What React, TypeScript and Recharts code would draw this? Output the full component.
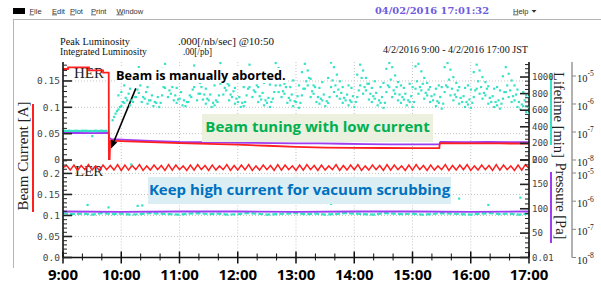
import React from 'react';
import { ComposedChart, Line, Scatter, XAxis, YAxis, ReferenceLine } from 'recharts';

// ---------------- DATA ----------------
const hourTicks = [9, 10, 11, 12, 13, 14, 15, 16, 17];
const hourLabels = ['9:00', '10:00', '11:00', '12:00', '13:00', '14:00', '15:00', '16:00', '17:00'];

// Top panel (HER) – beam current [A]
const herTimes = [9.0, 9.086, 9.087, 9.446, 9.447, 9.687, 9.688, 9.785, 9.788, 9.8, 9.803, 9.81, 10.0, 10.5, 11.0, 11.5, 12.0, 12.5, 13.0, 13.5, 14.0, 14.5, 15.0, 15.46, 15.47, 16.0, 16.5, 17.0];
const herCurrent = [0.1727, 0.1727, 0.1758, 0.1758, 0.17, 0.17, 0.1657, 0.1657, 0.0, 0.0, 0.012, 0.037, 0.036, 0.034, 0.032, 0.0305, 0.029, 0.027, 0.025, 0.0235, 0.023, 0.0228, 0.0226, 0.0225, 0.0318, 0.0316, 0.0314, 0.0312];

// Top panel – pressure [Pa]
const herPressTimes = [9.0, 9.25, 9.5, 9.785, 9.79, 9.83, 10.2, 10.6, 11.0, 11.4, 11.8, 12.2, 12.6, 13.0, 13.4, 13.8, 14.2, 14.6, 15.0, 15.46, 15.48, 15.9, 16.3, 16.7, 17.0];
const herPressure = [9.2e-8, 9.3e-8, 9.1e-8, 9.2e-8, 6.2e-8, 5.6e-8, 5.1e-8, 4.7e-8, 4.4e-8, 4.3e-8, 4.2e-8, 4.1e-8, 4.0e-8, 3.9e-8, 3.9e-8, 3.8e-8, 3.7e-8, 3.6e-8, 3.6e-8, 3.6e-8, 4.4e-8, 4.3e-8, 4.4e-8, 4.3e-8, 4.3e-8];

// Top panel – lifetime [min], before abort (2-minute samples from 9:00)
const herLifeBeforeStart = 9.0;
const herLifeBeforeStep = 1 / 30;
const herLifeBefore = [348, 351, 347, 352, 349, 346, 350, 353, 348, 347, 351, 349, 352, 348, 350, 346, 349, 351, 347, 350, 352, 348, 349, 351];
const herLifeOutlierT = [9.5];
const herLifeOutlierV = [289];

// Top panel – lifetime [min], after abort (3-minute samples from 9:51)
const herLifeAfterStart = 9.85;
const herLifeAfterStep = 0.05;
const herLifeAfter = [
  480, 560, 610, 650, 690, 720, 660, 700, 760,
  810, 700, 740, 680, 720, 650, 690, 640, 780,
  870, 760, 800, 720, 690, 740, 660, 650, 700,
  760, 880, 720, 800, 730, 680, 720, 640, 660,
  700, 920, 790, 840, 720, 760, 680, 700, 640,
  650, 780, 880, 760, 820, 700, 730, 660, 690,
  640, 740, 900, 820, 760, 800, 690, 720, 650,
  700, 630, 780, 860, 900, 760, 800, 700, 680,
  720, 650, 690, 880, 820, 770, 740, 690, 720,
  660, 700, 640, 760, 900, 800, 840, 730, 700,
  740, 660, 690, 630, 820, 880, 760, 800, 720,
  690, 730, 660, 700, 640, 860, 800, 840, 740,
  780, 700, 720, 650, 690, 620, 820, 880, 780,
  720, 760, 680, 700, 640, 670, 630, 760, 860,
  800, 740, 780, 680, 700, 640, 660, 620, 740,
  820, 760, 700, 720, 640, 610, 650, 580, 560,
];
// same instrument, samples taken half-way between the above (from 9:52.5)
const herLifeMidStart = 9.875;
const herLifeMid: (number | null)[] = [
  520, 590, 640, 700, 750, 800, 720, 760, 850,
  900, 760, 820, 720, 780, 700, 760, 690, 880,
  960, 840, 880, 780, 730, 820, 720, 700, 780,
  850, 960, 800, 880, 790, 740, 790, 690, 720,
  780, 1010, 870, 920, 790, 830, 740, 760, 690,
  700, 860, 960, 840, 900, 770, 810, 720, 750,
  700, 820, 990, 900, 830, 880, 750, 790, 710,
  770, 690, 860, 950, 990, 830, 880, 760, 740,
  790, 710, 760, 960, 900, 850, 810, 750, 790,
  720, 770, 700, 840, 990, 880, 920, 800, 770,
  810, 720, 760, 690, 900, 970, 840, 880, 790,
  760, 800, 720, 770, 700, 950, 880, 920, 810,
  850, 770, 790, 710, 760, 680, 900, 970, 860,
  790, 840, 750, 770, 700, 730, 690, 840, 950,
  880, 810, 860, 750, 770, 700, 720, 680, 820,
  900, 840, 770, 790, 700, 670, 720, 640, null,
];
const herLifeAfterHigh: (number | null)[] = [
  null, null, 780, 820, 900, 980, 860, null, 1050,
  1120, 960, null, 880, null, 940, 1010, null, 1100,
  1160, 1040, 950, null, 870, null, 990, 1080, null,
  1000, 1140, 1060, 930, null, 860, null, 1020, 900,
  980, 1170, 1090, 990, 900, null, 870, null, 950,
  880, 1050, 1150, 1060, 960, 880, null, 930, null,
  910, 1000, 1170, 1110, 1010, 920, null, 880, 960,
  null, 900, 1060, 1160, 1080, 980, 900, null, 870,
  940, null, 990, 1175, 1120, 1030, 950, 880, null,
  900, 870, null, 1030, 1150, 1080, 990, 920, 870,
  950, null, 880, 930, 1100, 1170, 1120, 1020, 940,
  900, 870, null, 920, 880, 1130, 1160, 1070, 990,
  930, 880, null, 860, 900, 880, 1120, 1170, 1090,
  1000, 930, 880, null, 870, 900, 850, 1060, 1150,
  1080, 1000, 940, 890, null, 860, 880, 840, 1010,
  1120, 1040, 960, 900, 850, null, 820, 780, 760,
];

// Bottom panel (LER) – beam current [A], 3.75-minute samples from 9:00
const lerCurStart = 9.0;
const lerCurStep = 1 / 16;
const lerCurrent = [
  0.214, 0.219, 0.208, 0.220, 0.207, 0.219, 0.209, 0.221, 0.208, 0.218, 0.207, 0.220, 0.209, 0.219, 0.208, 0.221,
  0.207, 0.220, 0.208, 0.219, 0.209, 0.221, 0.207, 0.218, 0.208, 0.220, 0.209, 0.219, 0.207, 0.221, 0.208, 0.220,
  0.209, 0.218, 0.207, 0.220, 0.208, 0.221, 0.209, 0.219, 0.207, 0.220, 0.208, 0.218, 0.209, 0.221, 0.207, 0.219,
  0.208, 0.220, 0.209, 0.221, 0.207, 0.218, 0.208, 0.220, 0.209, 0.219, 0.207, 0.221, 0.208, 0.220, 0.209, 0.218,
  0.207, 0.220, 0.208, 0.221, 0.209, 0.219, 0.207, 0.220, 0.208, 0.218, 0.209, 0.221, 0.207, 0.219, 0.208, 0.220,
  0.209, 0.221, 0.207, 0.218, 0.208, 0.220, 0.209, 0.219, 0.207, 0.221, 0.208, 0.220, 0.209, 0.218, 0.207, 0.220,
  0.208, 0.221, 0.209, 0.219, 0.207, 0.220, 0.208, 0.218, 0.209, 0.221, 0.207, 0.219, 0.208, 0.220, 0.209, 0.221,
  0.207, 0.218, 0.208, 0.220, 0.209, 0.219, 0.207, 0.221, 0.208, 0.220, 0.209, 0.218, 0.207, 0.220, 0.208, 0.221,
  0.212,
];

// Bottom panel – lifetime [min], 10-minute samples from 9:00
const lerLifeStart = 9.0;
const lerLifeStep = 1 / 6;
const lerLife = [
  91, 89, 90, 88, 91, 89, 90, 88, 89, 91,
  90, 89, 88, 90, 91, 89, 90, 88, 89, 91,
  90, 88, 89, 90, 91, 89, 90, 88, 89, 91,
  90, 89, 88, 91, 90, 89, 90, 88, 89, 91,
  90, 89, 88, 90, 91, 89, 90, 88, 90,
];
const lerLifeOutT = [9.42, 9.78, 10.17, 10.28, 10.36, 12.1, 13.6, 15.2, 15.8, 16.3, 16.85];
const lerLifeOutV = [108, 103, 191, 106, 107, 113, 110, 118, 121, 108, 123];

// Bottom panel – pressure [Pa]
const lerPressTimes = [9, 10, 11, 12, 13, 14, 15, 16, 17];
const lerPressure = [4.3e-7, 4.2e-7, 4.3e-7, 4.3e-7, 4.2e-7, 4.3e-7, 4.3e-7, 4.2e-7, 4.3e-7];

// Axis tick labels
const curTopMajors = [0, 0.05, 0.1, 0.15];
const curTopLabels = ['0', '0.05', '0.1', '0.15'];
const curBotMajors = [0, 0.05, 0.1, 0.15, 0.2];
const curBotLabels = ['0.0', '0.05', '0.1', '0.15', '0.2'];
const lifeTopMajors = [0, 200, 400, 600, 800, 1000];
const lifeTopLabels = ['0', '200', '400', '600', '800', '1000'];
const lifeBotMajors = [0, 50, 100, 150, 200];
const lifeBotLabels = ['0.01', '50', '100', '150', '200'];
const pressMajors = [1e-8, 1e-7, 1e-6, 1e-5];

// ---------------- BUILD TABLES ----------------
const pairs = (ts: number[], vs: (number | null)[]) =>
  ts.map((t, i) => ({ t, v: vs[i] })).filter((d) => d.v !== null && d.v !== undefined);
const seq = (start: number, step: number, vs: (number | null)[]) =>
  vs.map((v, i) => ({ t: start + i * step, v })).filter((d) => d.v !== null && d.v !== undefined);

const herCurData = pairs(herTimes, herCurrent);
const herPressData = pairs(herPressTimes, herPressure);
const herLifeBeforeData = seq(herLifeBeforeStart, herLifeBeforeStep, herLifeBefore);
const herLifeOutData = pairs(herLifeOutlierT, herLifeOutlierV);
const herLifeAfterData = seq(herLifeAfterStart, herLifeAfterStep, herLifeAfter);
const herLifeMidData = seq(herLifeMidStart, herLifeAfterStep, herLifeMid);
const herLifeHighData = seq(herLifeAfterStart, herLifeAfterStep, herLifeAfterHigh);
const lerCurData = seq(lerCurStart, lerCurStep, lerCurrent);
const lerLifeData = seq(lerLifeStart, lerLifeStep, lerLife);
const lerLifeOutData = pairs(lerLifeOutT, lerLifeOutV);
const lerPressData = pairs(lerPressTimes, lerPressure);

// minor tick helpers (styling only)
const range = (a: number, b: number, s: number) => {
  const out: number[] = [];
  for (let v = a; v <= b + 1e-9; v += s) out.push(Math.round(v * 1e6) / 1e6);
  return out;
};
const xTicks = range(9, 17, 1 / 3);
const curTopTicks = range(0, 0.18, 0.01);
const curBotTicks = range(0, 0.23, 0.01);
const lifeTopTicks = range(0, 1150, 50);
const lifeBotTicks = range(0, 200, 10);

// ---------------- STYLE ----------------
const RED = '#ff1f1f';
const CYAN = '#36e2c6';
const PURPLE = '#9d3cf0';
const MONO = "'DejaVu Sans Mono', monospace";
const SERIF = "'Liberation Serif', 'Times New Roman', serif";
const SANS = "'Open Sans', 'Liberation Sans', sans-serif";

const isHour = (v: number) => Math.abs(v - Math.round(v)) < 1e-4;
const findIdx = (arr: number[], v: number) => arr.findIndex((m) => Math.abs(m - v) < 1e-6 * Math.max(1, Math.abs(m)) || Math.abs(m - v) < 1e-12);

const TopXTick = (p: any) => {
  const major = isHour(p.payload.value);
  return <line x1={p.x} x2={p.x} y1={p.y} y2={p.y + (major ? 6 : 3.5)} stroke="#111" strokeWidth={major ? 1.5 : 1} />;
};
const MidXTick = (p: any) => {
  const major = isHour(p.payload.value);
  const l = major ? 6 : 3.5;
  return <line x1={p.x} x2={p.x} y1={p.y - l} y2={p.y + l} stroke="#111" strokeWidth={major ? 1.5 : 1} />;
};
const BotXTick = (p: any) => {
  const v = p.payload.value;
  const major = isHour(v);
  const idx = hourTicks.findIndex((h) => Math.abs(h - v) < 1e-4);
  return (
    <g>
      <line x1={p.x} x2={p.x} y1={p.y - (major ? 6 : 4)} y2={p.y + (major ? 6 : 3)} stroke="#111" strokeWidth={major ? 1.5 : 1} />
      {major && idx >= 0 && (
        <text x={p.x} y={p.y + 22.5} textAnchor="middle" fontFamily={SANS} fontWeight={700} fontSize={15} fill="#000">
          {hourLabels[idx]}
        </text>
      )}
    </g>
  );
};

const makeLeftTick = (majors: number[], labels: string[]) => (p: any) => {
  const idx = findIdx(majors, p.payload.value);
  const major = idx >= 0;
  return (
    <g>
      <line x1={p.x} x2={p.x + (major ? 9 : 4)} y1={p.y} y2={p.y} stroke="#222" strokeWidth={major ? 1.6 : 1} />
      {major && (
        <text x={p.x - 3} y={p.y + 3.3} textAnchor="end" fontFamily={MONO} fontSize={9.5} fill="#444">
          {labels[idx]}
        </text>
      )}
    </g>
  );
};
const makeRightTick = (majors: number[], labels: string[]) => (p: any) => {
  const idx = findIdx(majors, p.payload.value);
  const major = idx >= 0;
  return (
    <g>
      <line x1={p.x} x2={p.x - (major ? 9 : 4)} y1={p.y} y2={p.y} stroke="#222" strokeWidth={major ? 1.6 : 1} />
      {major && (
        <text x={p.x + 3} y={p.y + 3} textAnchor="start" fontFamily={MONO} fontSize={9} fill="#444">
          {labels[idx]}
        </text>
      )}
    </g>
  );
};
const LogTick = (p: any) => {
  const e = Math.round(Math.log10(p.payload.value));
  return (
    <g>
      <line x1={p.x} x2={p.x + 4} y1={p.y} y2={p.y} stroke="#888" strokeWidth={1} />
      <text x={p.x + 5} y={p.y + 6} fontFamily={SERIF} fontSize={10.5} fill="#222">
        10
        <tspan dy={-5.5} fontSize={7.5}>{String(e)}</tspan>
      </text>
    </g>
  );
};

const Arrow = (p: any) => {
  const { x1, y1, x2, y2 } = p;
  const dx = x2 - x1;
  const dy = y2 - y1;
  const len = Math.sqrt(dx * dx + dy * dy) || 1;
  const ux = dx / len;
  const uy = dy / len;
  const hl = 8;
  const hw = 3.5;
  const bx = x2 - ux * hl;
  const by = y2 - uy * hl;
  return (
    <g>
      <line x1={x1} y1={y1} x2={bx} y2={by} stroke="#000" strokeWidth={1.6} />
      <polygon points={`${x2},${y2} ${bx - uy * hw},${by + ux * hw} ${bx + uy * hw},${by - ux * hw}`} fill="#000" />
    </g>
  );
};

const Sq = (color: string) => (p: any) => <rect x={p.cx - 1} y={p.cy - 1} width={2.2} height={2.2} fill={color} />;

const axisLine = { stroke: '#111', strokeWidth: 1.6 };
const grid = { stroke: '#c4c4c4', strokeDasharray: '1 2', strokeWidth: 1 };
const hoursInner = [10, 11, 12, 13, 14, 15, 16];

export default function App() {
  return (
    <div style={{ position: 'absolute', left: 0, top: 0, width: 601, height: 284, background: '#fff', overflow: 'hidden' }}>
      {/* under-layer: window chrome, titles */}
      <svg width={601} height={284} style={{ position: 'absolute', left: 0, top: 0 }}>
        <rect x={13} y={8} width={12} height={6} fill="#000" />
        <text fontFamily="'Liberation Sans', sans-serif" fontSize={7.5} fill="#333" y={13.5}>
          <tspan x={29.5} textDecoration="underline">F</tspan><tspan>ile</tspan>
          <tspan x={52} textDecoration="underline">E</tspan><tspan>dit</tspan>
          <tspan x={70} textDecoration="underline">P</tspan><tspan>lot</tspan>
          <tspan x={91} textDecoration="underline">P</tspan><tspan>rint</tspan>
          <tspan x={116.5} textDecoration="underline">W</tspan><tspan>indow</tspan>
        </text>
        <text x={375} y={13.5} fontFamily="'DejaVu Serif', serif" fontWeight={700} fontSize={8.5} fill="#6c5ce0" textLength={114} lengthAdjust="spacingAndGlyphs">
          04/02/2016 17:01:32
        </text>
        <text x={513} y={13.5} fontFamily="'Liberation Sans', sans-serif" fontSize={7.5} fill="#333">
          <tspan textDecoration="underline">H</tspan>elp
        </text>
        <polygon points="531.5,10 536.5,10 534,12.8" fill="#333" />
        <line x1={13} y1={19.5} x2={601} y2={19.5} stroke="#b5b5b5" strokeWidth={1} />
        <line x1={13.5} y1={19} x2={13.5} y2={268} stroke="#b5b5b5" strokeWidth={1} />

        <text x={60} y={45} fontFamily={SERIF} fontSize={10} fill="#111" textLength={70} lengthAdjust="spacingAndGlyphs">Peak Luminosity</text>
        <text x={178} y={45} fontFamily={SERIF} fontSize={10} fill="#111" textLength={96} lengthAdjust="spacingAndGlyphs">.000[/nb/sec] @10:50</text>
        <text x={60} y={55} fontFamily={SERIF} fontSize={10} fill="#111" textLength={87} lengthAdjust="spacingAndGlyphs">Integrated Luminosity</text>
        <text x={183} y={55} fontFamily={SERIF} fontSize={10} fill="#111" textLength={29} lengthAdjust="spacingAndGlyphs">.00[/pb]</text>
        <text x={383} y={52.5} fontFamily={SERIF} fontSize={10} fill="#111" textLength={145} lengthAdjust="spacingAndGlyphs">4/2/2016 9:00 - 4/2/2016 17:00 JST</text>

        <text x={74} y={78} fontFamily={SERIF} fontSize={15} fill="#222">HER</text>
        <text x={75} y={176} fontFamily={SERIF} fontSize={15} fill="#222">LER</text>

        <text x={22.5} y={156} transform="rotate(-90 22.5 156)" textAnchor="middle" dominantBaseline="central" fontFamily={SERIF} fontSize={15} fill="#222">Beam Current [A]</text>
        <rect x={32} y={104} width={2} height={108} fill={RED} />
        <text x={559} y={115} transform="rotate(90 559 115)" textAnchor="middle" dominantBaseline="central" fontFamily={SERIF} fontSize={14.5} fill="#222">Lifetime [min]</text>
        <rect x={550} y={73} width={2} height={72} fill={CYAN} />
        <text x={560.5} y={201} transform="rotate(90 560.5 201)" textAnchor="middle" dominantBaseline="central" fontFamily={SERIF} fontSize={14.5} fill="#222">Pressure [Pa]</text>
        <rect x={550} y={172} width={2} height={71} fill={PURPLE} />
      </svg>

      {/* top panel */}
      <div style={{ position: 'absolute', left: 0, top: 0 }}>
        <ComposedChart width={601} height={284} margin={{ top: 62, right: 0, bottom: 124, left: 23 }}>
          <XAxis xAxisId="x" dataKey="t" type="number" domain={[9, 17]} allowDataOverflow orientation="top" height={0}
            ticks={xTicks} interval={0} tickSize={0} tickMargin={0} tickLine={false} tick={TopXTick} axisLine={axisLine} />
          <YAxis yAxisId="cur" orientation="left" width={40} type="number" domain={[0, 0.186]} allowDataOverflow
            ticks={curTopTicks} interval={0} tickSize={0} tickMargin={0} tickLine={false} tick={makeLeftTick(curTopMajors, curTopLabels)} axisLine={axisLine} />
          <YAxis yAxisId="life" orientation="right" width={43} type="number" domain={[0, 1181]} allowDataOverflow
            ticks={lifeTopTicks} interval={0} tickSize={0} tickMargin={0} tickLine={false} tick={makeRightTick(lifeTopMajors, lifeTopLabels)} axisLine={axisLine} />
          <YAxis yAxisId="press" orientation="right" width={29} type="number" scale="log" domain={[1e-8, 3.16e-5]} allowDataOverflow
            ticks={pressMajors} interval={0} tickSize={0} tickMargin={0} tickLine={false} tick={LogTick} axisLine={{ stroke: '#999', strokeWidth: 1.5 }} />

          {curTopMajors.slice(1).map((v) => (
            <ReferenceLine key={'gy' + v} xAxisId="x" yAxisId="cur" y={v} {...grid} />
          ))}
          {hoursInner.map((h) => (
            <ReferenceLine key={'gx' + h} xAxisId="x" yAxisId="cur" x={h} {...grid} />
          ))}

          <Scatter xAxisId="x" yAxisId="life" data={herLifeHighData} dataKey="v" fill={CYAN} shape={Sq(CYAN)} isAnimationActive={false} />
          <Scatter xAxisId="x" yAxisId="life" data={herLifeMidData} dataKey="v" fill={CYAN} shape={Sq(CYAN)} isAnimationActive={false} />
          <Scatter xAxisId="x" yAxisId="life" data={herLifeAfterData} dataKey="v" fill={CYAN} shape={Sq(CYAN)} isAnimationActive={false} />
          <Scatter xAxisId="x" yAxisId="life" data={herLifeOutData} dataKey="v" fill={CYAN} shape={Sq(CYAN)} isAnimationActive={false} />
          <Line xAxisId="x" yAxisId="life" data={herLifeBeforeData} dataKey="v" type="linear" stroke={CYAN} strokeWidth={2.5} dot={false} isAnimationActive={false} />
          <Line xAxisId="x" yAxisId="press" data={herPressData} dataKey="v" type="linear" stroke={PURPLE} strokeWidth={1.8} dot={false} isAnimationActive={false} />
          <Line xAxisId="x" yAxisId="cur" data={herCurData} dataKey="v" type="linear" stroke={RED} strokeWidth={1.8} dot={false} isAnimationActive={false} />

          <ReferenceLine xAxisId="x" yAxisId="cur" segment={[{ x: 10.25, y: 0.136 }, { x: 9.825, y: 0.022 }]} shape={Arrow} />
        </ComposedChart>
      </div>

      {/* bottom panel */}
      <div style={{ position: 'absolute', left: 0, top: 0 }}>
        <ComposedChart width={601} height={284} margin={{ top: 160, right: 0, bottom: 0, left: 23 }}>
          <XAxis xAxisId="x" dataKey="t" type="number" domain={[9, 17]} allowDataOverflow orientation="bottom" height={26.5}
            ticks={xTicks} interval={0} tickSize={0} tickMargin={0} tickLine={false} tick={BotXTick} axisLine={axisLine} />
          <XAxis xAxisId="mid" dataKey="t" type="number" domain={[9, 17]} allowDataOverflow orientation="top" height={0}
            ticks={xTicks} interval={0} tickSize={0} tickMargin={0} tickLine={false} tick={MidXTick} axisLine={axisLine} />
          <YAxis yAxisId="cur" orientation="left" width={40} type="number" domain={[0, 0.232]} allowDataOverflow
            ticks={curBotTicks} interval={0} tickSize={0} tickMargin={0} tickLine={false} tick={makeLeftTick(curBotMajors, curBotLabels)} axisLine={axisLine} />
          <YAxis yAxisId="life" orientation="right" width={43} type="number" domain={[0, 200]} allowDataOverflow
            ticks={lifeBotTicks} interval={0} tickSize={0} tickMargin={0} tickLine={false} tick={makeRightTick(lifeBotMajors, lifeBotLabels)} axisLine={axisLine} />
          <YAxis yAxisId="press" orientation="right" width={29} type="number" scale="log" domain={[1e-8, 2.9e-5]} allowDataOverflow
            ticks={pressMajors} interval={0} tickSize={0} tickMargin={0} tickLine={false} tick={LogTick} axisLine={{ stroke: '#999', strokeWidth: 1.5 }} />

          {curBotMajors.slice(1).map((v) => (
            <ReferenceLine key={'gy' + v} xAxisId="x" yAxisId="cur" y={v} {...grid} />
          ))}
          {hoursInner.map((h) => (
            <ReferenceLine key={'gx' + h} xAxisId="x" yAxisId="cur" x={h} {...grid} />
          ))}

          <Line xAxisId="x" yAxisId="life" data={lerLifeData} dataKey="v" type="linear" stroke={CYAN} strokeWidth={2.2} strokeDasharray="5 2" dot={false} isAnimationActive={false} />
          <Scatter xAxisId="x" yAxisId="life" data={lerLifeOutData} dataKey="v" fill={CYAN} shape={Sq(CYAN)} isAnimationActive={false} />
          <Line xAxisId="x" yAxisId="press" data={lerPressData} dataKey="v" type="linear" stroke={PURPLE} strokeWidth={1.8} dot={false} isAnimationActive={false} />
          <Line xAxisId="x" yAxisId="cur" data={lerCurData} dataKey="v" type="linear" stroke={RED} strokeWidth={1.5} dot={false} isAnimationActive={false} />
        </ComposedChart>
      </div>

      {/* annotations */}
      <div style={{ position: 'absolute', left: 115, top: 68, background: '#fff', padding: '0 1px', fontFamily: SANS, fontWeight: 700, fontSize: 12.7, lineHeight: '15px', color: '#000', whiteSpace: 'nowrap' }}>
        Beam is manually aborted.
      </div>
      <div style={{ position: 'absolute', left: 202, top: 114, width: 231, height: 28, background: '#ebf1de', fontFamily: SANS, fontWeight: 700, fontSize: 15, lineHeight: '25px', color: '#00b050', textAlign: 'center', whiteSpace: 'nowrap' }}>
        Beam tuning with low current
      </div>
      <div style={{ position: 'absolute', left: 148, top: 177, width: 303, height: 27, background: '#daeef3', fontFamily: SANS, fontWeight: 700, fontSize: 15, lineHeight: '24.4px', color: '#0070c0', textAlign: 'center', whiteSpace: 'nowrap' }}>
        Keep high current for vacuum scrubbing
      </div>
    </div>
  );
}
